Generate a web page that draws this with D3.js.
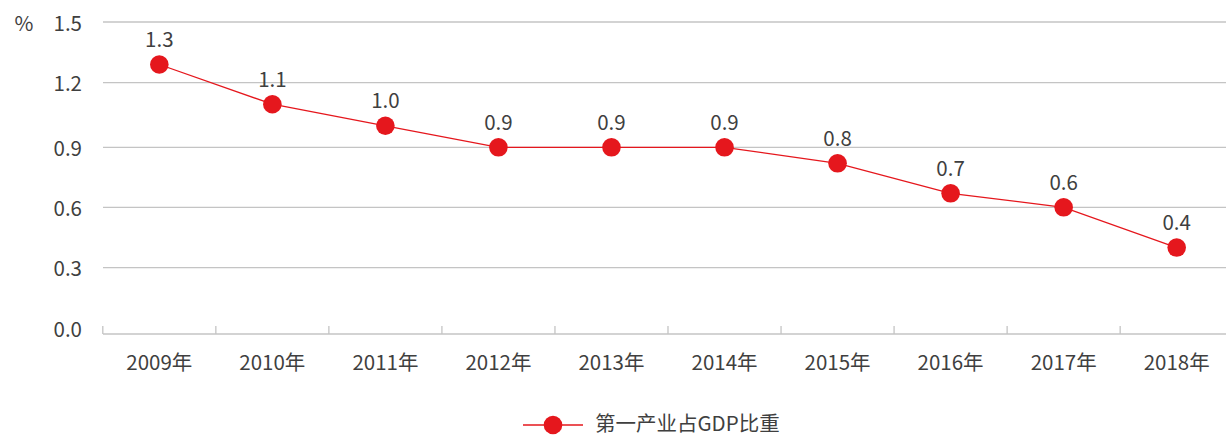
<!DOCTYPE html>
<html>
<head>
<meta charset="utf-8">
<script src="https://cdn.jsdelivr.net/npm/d3@7"></script>
<style>
  html, body { margin: 0; padding: 0; background: #fff; }
  svg { display: block; font-family: "Noto Sans CJK SC", "Noto Sans", sans-serif; }
</style>
</head>
<body>
<svg id="chart" width="1226" height="441"></svg>
<script>
const years = ["2009年","2010年","2011年","2012年","2013年","2014年","2015年","2016年","2017年","2018年"];
const share = [1.29, 1.1, 1.0, 0.9, 0.9, 0.9, 0.82, 0.67, 0.6, 0.4];
const yTicks = [0, 0.3, 0.6, 0.9, 1.2, 1.5];
const yUnit = "%";
const seriesName = "第一产业占GDP比重";

const W = 1226, H = 441;
const svg = d3.select("#chart");
const red = "#e5171d";
const textColor = "#3f3f3f";
const gridColor = "#c4c4c4";
const fs = 20.5;

const x = d3.scaleBand().domain(years).range([102.8, 1233.2]).padding(0);
const y = d3.scaleLinear().domain(yTicks).range([328, 267.7, 207.3, 147.3, 82.7, 22]);
const axisY = 334;

// gridlines (skip zero, drawn as axis)
svg.append("g").selectAll("line").data(yTicks.filter(d => d > 0)).join("line")
  .attr("x1", 103).attr("x2", W)
  .attr("y1", d => y(d)).attr("y2", d => y(d))
  .attr("stroke", gridColor).attr("stroke-width", 1.3);

// y labels
svg.append("g").selectAll("text").data(yTicks).join("text")
  .attr("x", 82).attr("y", d => y(d) + 3)
  .attr("text-anchor", "end").attr("dominant-baseline", "middle")
  .attr("font-size", fs).attr("fill", textColor)
  .text(d => d3.format(".1f")(d));

svg.append("text").attr("x", 24).attr("y", y(1.5) + 3)
  .attr("text-anchor", "middle").attr("dominant-baseline", "middle")
  .attr("font-size", fs).attr("fill", textColor).text(yUnit);

// x axis
const xAxis = d3.axisBottom(x).tickSize(0).tickPadding(0);
const gx = svg.append("g").attr("transform", `translate(0,${axisY})`).call(xAxis);
gx.select(".domain").remove();
gx.selectAll("text").attr("font-size", fs).attr("fill", textColor)
  .attr("font-family", "Noto Sans CJK SC").attr("dy", 0).attr("y", 36);
gx.append("line").attr("x1", 103).attr("x2", W).attr("y1", 0).attr("y2", 0)
  .attr("stroke", gridColor).attr("stroke-width", 1.5);
const bounds = years.map(d => x(d));
gx.selectAll("line.tk").data(bounds).join("line").attr("class", "tk")
  .attr("x1", d => d).attr("x2", d => d).attr("y1", 0).attr("y2", -8)
  .attr("stroke", gridColor).attr("stroke-width", 1.3);

// line
const cx = d => x(d) + x.bandwidth() / 2;
const line = d3.line().x((d, i) => cx(years[i])).y(d => y(d));
svg.append("path").datum(share).attr("d", line)
  .attr("fill", "none").attr("stroke", red).attr("stroke-width", 1.3);

svg.append("g").selectAll("circle").data(share).join("circle")
  .attr("cx", (d, i) => cx(years[i])).attr("cy", d => y(d)).attr("r", 9.3)
  .attr("fill", red);

svg.append("g").selectAll("text").data(share).join("text")
  .attr("x", (d, i) => cx(years[i])).attr("y", d => y(d) - 23)
  .attr("text-anchor", "middle").attr("dominant-baseline", "middle")
  .attr("font-size", fs).attr("fill", textColor)
  .text(d => d3.format(".1f")(d));

// legend
const lg = svg.append("g").attr("transform", "translate(553,425)");
lg.append("line").attr("x1", -30).attr("x2", 30).attr("stroke", red).attr("stroke-width", 1.3);
lg.append("circle").attr("r", 9.3).attr("fill", red);
lg.append("text").attr("x", 42).attr("y", 0).attr("dominant-baseline", "middle")
  .attr("font-size", fs).attr("fill", textColor).text(seriesName);
</script>
</body>
</html>
